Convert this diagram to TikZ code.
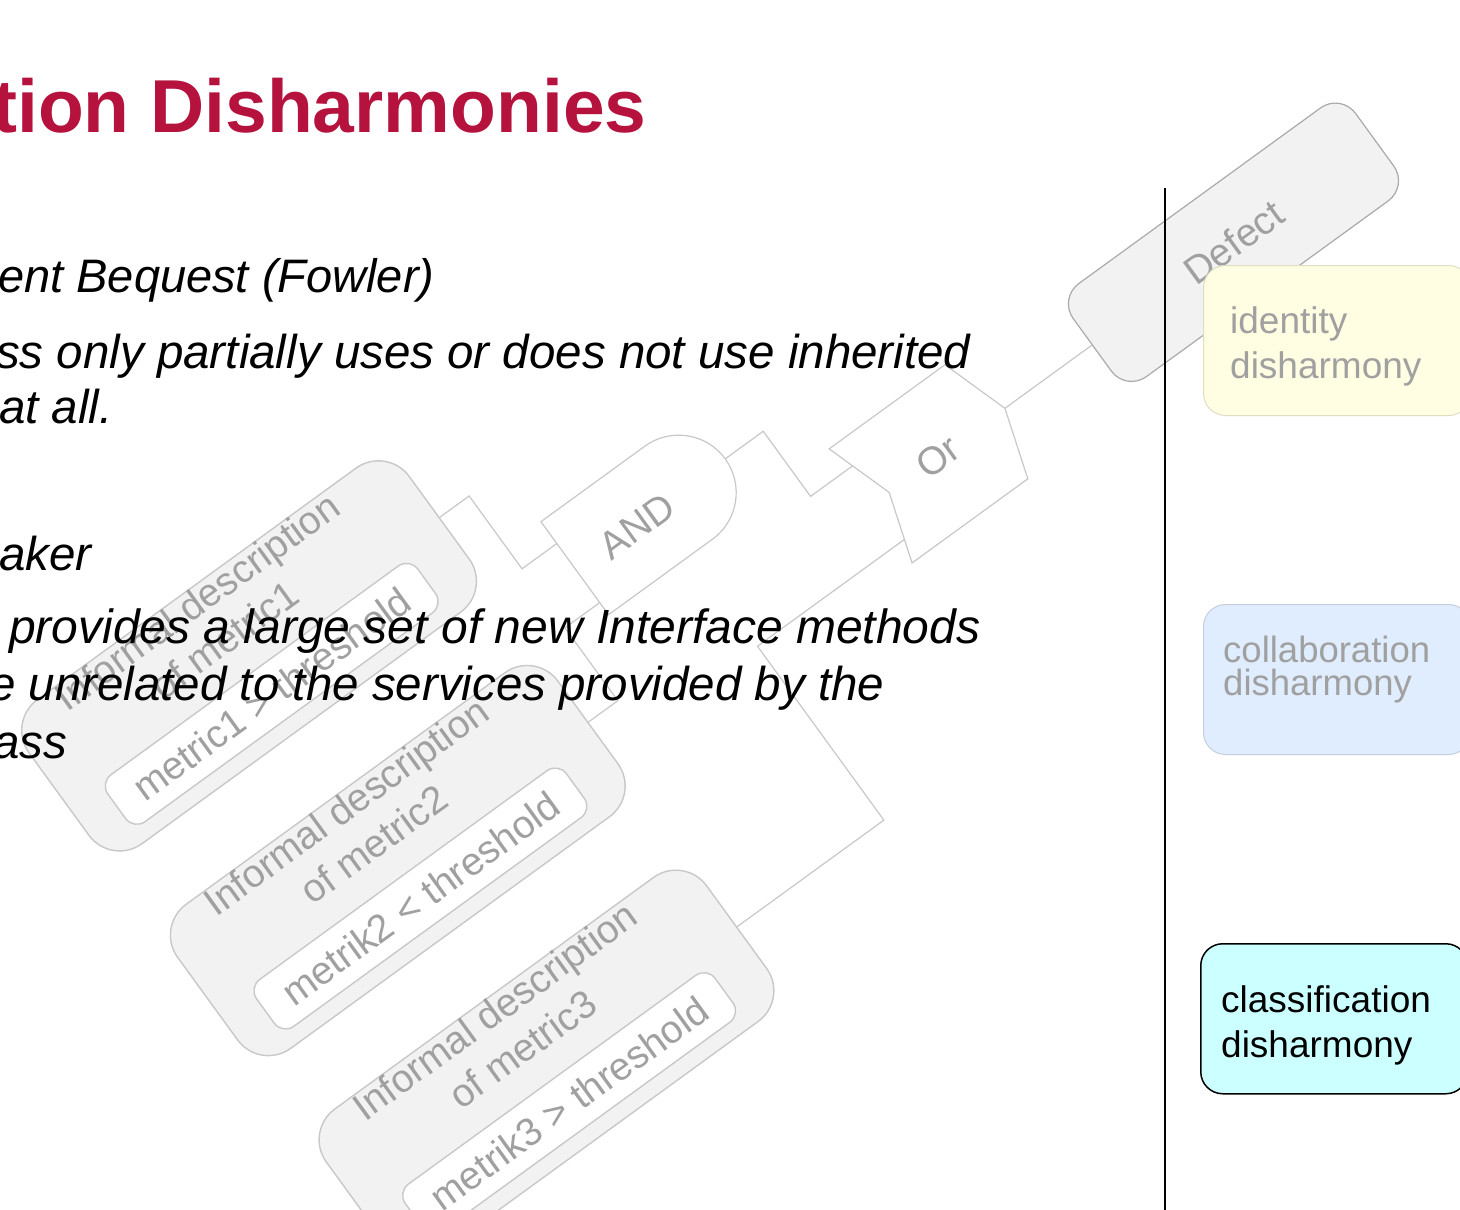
\documentclass[tikz,border=0pt]{standalone}
\usepackage{fontspec}
\setmainfont{Liberation Sans}
\usetikzlibrary{positioning,shapes.symbols}
\definecolor{ctitle}{RGB}{182,18,62}
\definecolor{cline}{RGB}{200,200,200}
\definecolor{cfill}{RGB}{242,242,242}
\definecolor{cfaint}{RGB}{160,160,160}
\definecolor{cyellow}{RGB}{255,253,226}
\definecolor{cblue}{RGB}{224,237,255}
\definecolor{ccyan}{RGB}{204,255,255}

\begin{document}
\begin{tikzpicture}[
    x=1pt, y=1pt,
    wire/.style={draw=cline, line width=1.2pt},
    mbox/.style={draw=cline, fill=cfill, rounded corners=38pt, line width=1.4pt,
                 minimum width=470pt, minimum height=178pt},
    mcond/.style={draw=cline, fill=white, rounded corners=14pt, line width=1.4pt,
                  minimum width=383pt, minimum height=58pt, inner sep=0pt,
                  text=cfaint, font=\fontsize{39}{47}\selectfont},
    mtext/.style={align=center, inner sep=0pt, text=cfaint, font=\fontsize{39}{47}\selectfont},
    gate/.style={draw=cline, fill=white, line width=1.2pt, inner sep=0pt,
                 text=cfaint, font=\fontsize{39}{47}\selectfont},
    body/.style={anchor=base west, inner sep=0pt, font=\fontsize{47.5}{57}\selectfont\itshape},
    dbox/.style={rounded corners=22pt, anchor=north west, line width=1pt,
                 minimum width=267pt, minimum height=150pt},
    dtext/.style={anchor=base west, align=left, inner sep=0pt},
]
\useasboundingbox (0,-1210) rectangle (1460,0);
\fill[white] (0,-1210) rectangle (1460,0);

% === Fault tree (faded, drawn rotated) ===
\begin{scope}[rotate=36, transform shape]
  % elbows of the wires
  \coordinate (e11) at (88,-677);
  \coordinate (e12) at (88,-767);
  \coordinate (a1) at (150,-767);
  \coordinate (e21) at (88,-930);
  \coordinate (e22) at (88,-840);
  \coordinate (a2) at (150,-840);
  \coordinate (andout) at (317,-797.5);
  \coordinate (e31) at (364,-797.5);
  \coordinate (e32) at (364,-878);
  \coordinate (o1) at (440,-878);
  \coordinate (e41) at (233,-1183);
  \coordinate (e42) at (233,-968);
  \coordinate (o2) at (440,-968);

  % metric boxes
  \node[mbox] (m1) at (-184,-677) {};
  \node[mtext] (m1t) at (-194,-626) {Informal description\\of metric1};
  \node[mcond] (m1c) at (-188,-721) {metric1 > threshold};

  \node[mbox] (m2) at (-184,-930) {};
  \node[mtext] (m2t) at (-194,-879) {Informal description\\of metric2};
  \node[mcond] (m2c) at (-188,-974) {metrik2 < threshold};

  \node[mbox] (m3) at (-184,-1183) {};
  \node[mtext] (m3t) at (-194,-1132) {Informal description\\of metric3};
  \node[mcond] (m3c) at (-188,-1227) {metrik3 > threshold};

  % wires
  \draw[wire] (m1.east) -- (e11) -- (e12) -- (a1);
  \draw[wire] (m2.east) -- (e21) -- (e22) -- (a2);
  \draw[wire] (m3.east) -- (e41) -- (e42) -- (o2);
  \draw[wire] (andout) -- (e31) -- (e32) -- (o1);

  % AND gate: flat back, round front
  \draw[wire, fill=white] (131,-740) -- (259.5,-740)
      arc[start angle=90, end angle=-90, radius=57.5] -- (131,-855) -- cycle;
  \node[gate, draw=none, fill=none] (andgate) at (206,-800) {AND};

  % Or gate and top event
  \node[gate, signal, signal from=west, signal to=east, signal pointer angle=144,
        minimum width=166pt, minimum height=141pt] (orgate) at (490,-921) {Or};
  \node[gate, fill=cfill, draw=cline!85!black, rounded corners=25pt,
        minimum width=349pt, minimum height=115pt] (defect) at (855.5,-921) {Defect};
  \draw[wire] (orgate.east) -- (defect.west);
\end{scope}

% === Slide text ===
\node[anchor=base west, inner sep=0pt, text=ctitle,
      font=\fontsize{75}{90}\selectfont\bfseries] (title) at (-8,-132) {tion Disharmonies};

\node[body, font=\fontsize{47}{57}\selectfont\itshape] (b1) at (-2,-292) {ent Bequest (Fowler)};
\node[body] (b2) at (-4,-368) {ss only partially uses or does not use inherited};
\node[body] (b3) at (-1,-423) {at all.};
\node[body] (b4) at (-1,-570) {aker};
\node[body, font=\fontsize{48}{57}\selectfont\itshape] (b5) at (9,-643) {provides a large set of new Interface methods};
\node[body] (b6) at (-11,-700) {e unrelated to the services provided by the};
\node[body] (b7) at (-7,-758) {ass};

% === Disharmony column ===
\draw[line width=1.3pt] (1165,-188) -- (1165,-1215);

\node[dbox, fill=cyellow, draw={rgb,255:red,222;green,222;blue,196}] (ident) at (1203,-265) {};
\node[dtext, text=cfaint, font=\fontsize{37}{45}\selectfont] (identt) at (1230,-378) {identity\\disharmony};

\node[dbox, fill=cblue, draw={rgb,255:red,196;green,206;blue,222}] (collab) at (1203,-604) {};
\node[dtext, text=cfaint, font=\fontsize{36.5}{33}\selectfont] (collabt) at (1223,-695) {collaboration\\disharmony};

\node[dbox, fill=ccyan, draw=black, line width=1.5pt] (classif) at (1200,-943) {};
\node[dtext, font=\fontsize{37}{45}\selectfont] (classift) at (1221,-1057) {classification\\disharmony};
\end{tikzpicture}
\end{document}
